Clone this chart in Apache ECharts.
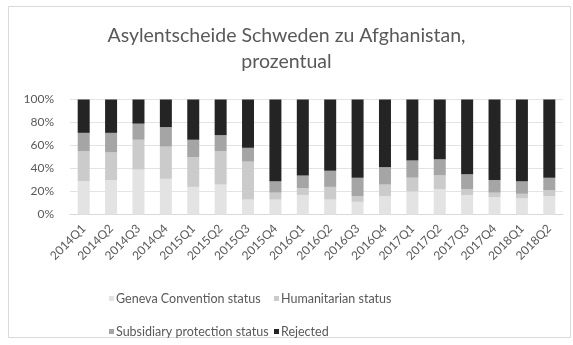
<!DOCTYPE html>
<html>
<head>
<meta charset="utf-8">
<script src="https://cdn.jsdelivr.net/npm/echarts@6/dist/echarts.min.js"></script>
<style>
  html, body { margin: 0; padding: 0; background: #ffffff; }
  #chart { width: 573px; height: 345px; }
</style>
</head>
<body>
<div id="chart"></div>
<script>
// Quarterly asylum decisions (Sweden, Afghan applicants), share in percent
const quarters = ['2014Q1','2014Q2','2014Q3','2014Q4','2015Q1','2015Q2','2015Q3','2015Q4',
  '2016Q1','2016Q2','2016Q3','2016Q4','2017Q1','2017Q2','2017Q3','2017Q4','2018Q1','2018Q2'];
const geneva       = [29, 30, 39, 31, 24, 26, 13, 13, 17, 13, 11, 16, 20, 22, 17, 15, 14, 16];
const humanitarian = [26, 24, 26, 28, 26, 29, 33,  6,  6, 11,  5, 10, 12, 12,  5,  4,  4,  5];
const subsidiary   = [16, 17, 14, 17, 15, 14, 12, 10, 11, 14, 16, 15, 15, 14, 13, 11, 11, 11];
const rejected     = [29, 29, 21, 24, 35, 31, 42, 71, 66, 62, 68, 59, 53, 52, 65, 70, 71, 68];
const yTicks = [0, 20, 40, 60, 80, 100];

const seriesNames = ['Geneva Convention status', 'Humanitarian status',
  'Subsidiary protection status', 'Rejected'];
const seriesData = [geneva, humanitarian, subsidiary, rejected];
const seriesColors = ['#e3e3e3', '#cbcbcb', '#a5a5a5', '#242424'];

const textColor = '#595959';
const fontFamily = 'Lato, "Open Sans", sans-serif';

const chart = echarts.init(document.getElementById('chart'), null, { renderer: 'canvas' });

function legendAt(name, left, top) {
  return {
    data: [name],
    left: left,
    top: top,
    itemWidth: 5,
    itemHeight: 5,
    itemGap: 4,
    icon: 'rect',
    textStyle: { color: textColor, fontSize: 12.5, fontFamily: fontFamily, padding: [0, 0, 0, -3] }
  };
}

chart.setOption({
  animation: false,
  backgroundColor: '#ffffff',
  title: {
    text: 'Asylentscheide Schweden zu Afghanistan,\nprozentual',
    left: 'center',
    top: 18,
    textStyle: {
      color: textColor,
      fontSize: 19.5,
      fontWeight: 'normal',
      fontFamily: fontFamily,
      lineHeight: 26
    }
  },
  graphic: [{
    type: 'rect',
    shape: { x: 8.5, y: 6.5, width: 562, height: 331 },
    style: { fill: null, stroke: '#d9d9d9', lineWidth: 1 },
    silent: true
  }],
  legend: [
    legendAt(seriesNames[0], 104, 287),
    legendAt(seriesNames[1], 269, 287),
    legendAt(seriesNames[2], 104, 320),
    legendAt(seriesNames[3], 269, 320)
  ],
  grid: { left: 70, right: 10, top: 99.5, bottom: 130.5, containLabel: false },
  xAxis: {
    type: 'category',
    data: quarters,
    axisTick: { show: false },
    axisLine: { show: true, lineStyle: { color: '#d9d9d9', width: 1 } },
    axisLabel: {
      rotate: 45,
      interval: 0,
      margin: 12,
      color: textColor,
      fontSize: 12,
      fontFamily: fontFamily
    }
  },
  yAxis: {
    type: 'value',
    min: yTicks[0],
    max: yTicks[yTicks.length - 1],
    interval: yTicks[1] - yTicks[0],
    axisLine: { show: false },
    axisTick: { show: false },
    splitLine: { lineStyle: { color: '#e3e3e3', width: 1 } },
    axisLabel: {
      formatter: '{value}%',
      margin: 16,
      color: textColor,
      fontSize: 12,
      fontFamily: fontFamily
    }
  },
  series: seriesNames.map((name, i) => ({
    name: name,
    type: 'bar',
    stack: 'share',
    barWidth: 12,
    data: seriesData[i],
    itemStyle: { color: seriesColors[i] }
  }))
});
</script>
</body>
</html>
